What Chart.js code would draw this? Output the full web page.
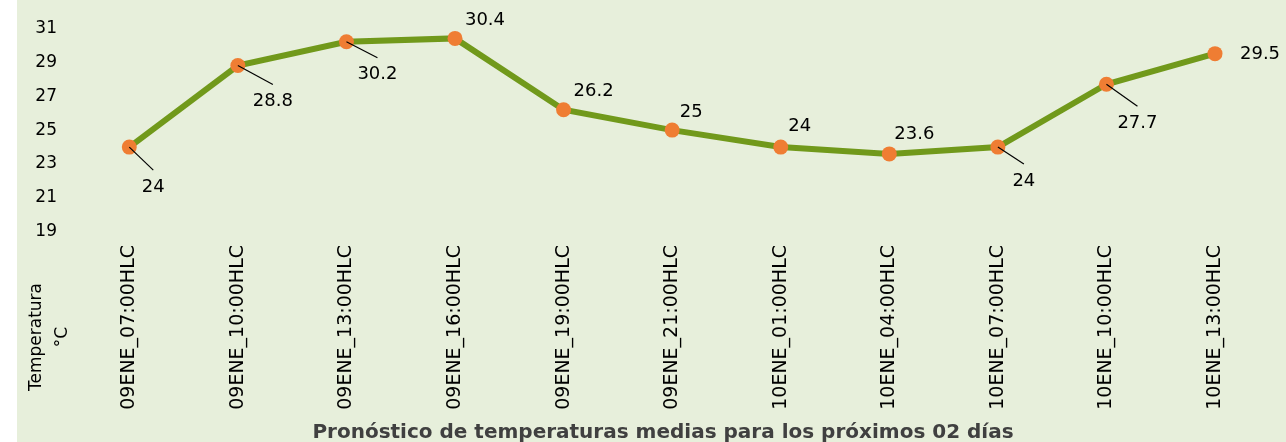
<!DOCTYPE html>
<html>
<head>
<meta charset="utf-8">
<script src="https://cdn.jsdelivr.net/npm/chart.js@4"></script>
<style>
  html, body { margin: 0; padding: 0; background: #ffffff; }
  #wrap { width: 1286px; height: 442px; }
</style>
</head>
<body>
<div id="wrap"><canvas id="c" width="1286" height="442"></canvas></div>
<script>
// ---- data ----
const categories = ["09ENE_07:00HLC","09ENE_10:00HLC","09ENE_13:00HLC","09ENE_16:00HLC","09ENE_19:00HLC","09ENE_21:00HLC","10ENE_01:00HLC","10ENE_04:00HLC","10ENE_07:00HLC","10ENE_10:00HLC","10ENE_13:00HLC"];
const temperatures = [24, 28.8, 30.2, 30.4, 26.2, 25, 24, 23.6, 24, 27.7, 29.5];
const yMin = 19, yMax = 31, yStep = 2;
const xTitle = "Pronóstico de temperaturas medias para los próximos 02 días";
const yTitleLines = ["Temperatura", "°C"];

// ---- label styling (offsets of value labels from their points) ----
const labelOffsets = [[24,40,1],[35,36,1],[31,33,1],[30,-18,0],[30,-18,0],[19,-18,0],[19,-21,0],[25,-20,0],[26,34,1],[31,39,1],[45,1,0]];

const FONT = "'DejaVu Sans', Verdana, sans-serif";

const bgPlugin = {
  id: 'bg',
  beforeDraw(chart) {
    const ctx = chart.ctx;
    ctx.save();
    ctx.fillStyle = '#e7efdb';
    ctx.fillRect(17, 0, chart.width - 17, chart.height);
    ctx.restore();
  }
};

const labelPlugin = {
  id: 'vlabels',
  afterDatasetsDraw(chart) {
    const ctx = chart.ctx;
    const meta = chart.getDatasetMeta(0);
    ctx.save();
    ctx.font = "18px " + FONT;
    ctx.fillStyle = '#000000';
    ctx.textAlign = 'center';
    ctx.textBaseline = 'middle';
    meta.data.forEach((pt, i) => {
      const [dx, dy, leader] = labelOffsets[i];
      const x = pt.x, y = pt.y;
      if (leader) {
        ctx.strokeStyle = '#000000';
        ctx.lineWidth = 1.2;
        ctx.beginPath();
        ctx.moveTo(x, y);
        ctx.lineTo(x + dx, y + dy - 17);
        ctx.stroke();
      }
      ctx.fillText(String(temperatures[i]), x + dx, y + dy);
    });
    ctx.restore();
  }
};

const titlesPlugin = {
  id: 'titles',
  afterDraw(chart) {
    const ctx = chart.ctx;
    ctx.save();
    ctx.font = "17px " + FONT;
    ctx.fillStyle = '#000000';
    ctx.textAlign = 'center';
    ctx.textBaseline = 'middle';
    const xs = [37, 63];
    yTitleLines.forEach((t, i) => {
      ctx.save();
      ctx.translate(xs[i], 337);
      ctx.rotate(-Math.PI / 2);
      ctx.fillText(t, 0, 0);
      ctx.restore();
    });
    ctx.font = "bold 20px " + FONT;
    ctx.fillStyle = '#404040';
    ctx.fillText(xTitle, 663, 433);
    ctx.restore();
  }
};

new Chart(document.getElementById('c'), {
  type: 'line',
  data: {
    labels: categories,
    datasets: [{
      data: temperatures,
      borderColor: '#71991b',
      borderWidth: 6,
      pointBackgroundColor: '#ef7d33',
      pointBorderColor: '#ef7d33',
      pointRadius: 7.5,
      pointBorderWidth: 0,
      tension: 0,
      fill: false
    }]
  },
  options: {
    responsive: false,
    animation: false,
    devicePixelRatio: 1,
    layout: { padding: { top: 27, right: 16.7, left: 0, bottom: 0 } },
    plugins: { legend: { display: false }, tooltip: { enabled: false } },
    scales: {
      x: {
        offset: true,
        grid: { display: false, drawTicks: false },
        border: { display: false },
        ticks: {
          autoSkip: false,
          minRotation: 90, maxRotation: 90,
          padding: 13,
          color: '#000000',
          font: { family: FONT, size: 19 }
        },
        afterFit(scale) { scale.height = 210; }
      },
      y: {
        min: yMin, max: yMax,
        grid: { display: false, drawTicks: false },
        border: { display: false },
        ticks: {
          stepSize: yStep,
          padding: 18,
          color: '#000000',
          font: { family: FONT, size: 17 }
        },
        afterFit(scale) { scale.width = 75; }
      }
    }
  },
  plugins: [bgPlugin, labelPlugin, titlesPlugin]
});
</script>
</body>
</html>
